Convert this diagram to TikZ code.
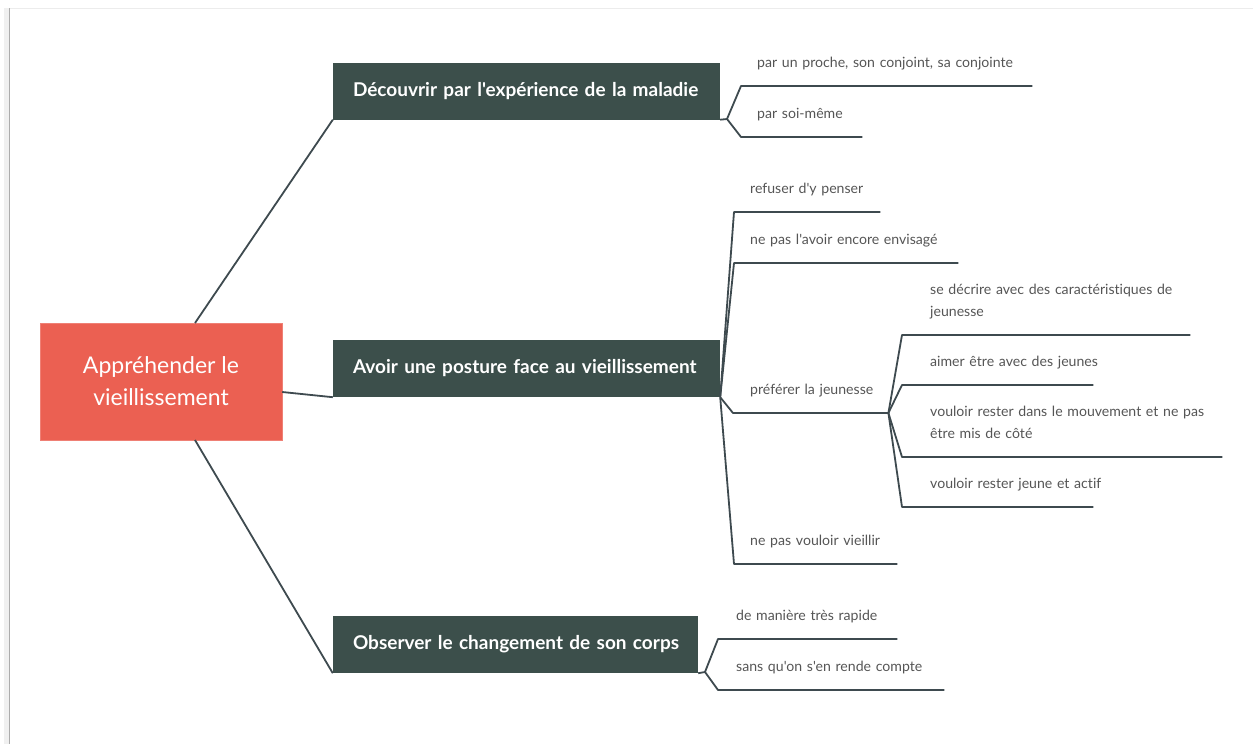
\documentclass[tikz,border=0pt]{standalone}
\usepackage{fontspec}
\setmainfont{Lato}[Ligatures={TeXOff,NoCommon}]
\definecolor{rootred}{HTML}{EB6052}
\definecolor{mainbox}{HTML}{3C4F4B}
\definecolor{linec}{HTML}{3E4A4F}
\definecolor{leaftxt}{HTML}{555555}
\newcommand\lstrut{\vrule height 10pt depth 3pt width 0pt}
\newcommand\lline[2]{\hspace*{#1}\mbox{#2}}
\tikzset{
  rootbox/.style={fill=rootred, draw=rootred!80!white, text=white, align=center,
    minimum width=242pt, minimum height=117pt, inner sep=0pt,
    font=\fontsize{23}{32}\selectfont},
  mainnode/.style={fill=mainbox, text=white, inner xsep=20pt, inner ysep=0pt,
    minimum height=57pt, align=left,
    font=\fontsize{19}{20}\selectfont\bfseries},
  leaf/.style={anchor=south west, align=left, inner xsep=0pt, inner ysep=15pt,
    text=leaftxt, font=\fontsize{14.1}{22}\selectfont},
  conn/.style={draw=linec, line width=1.8pt, line join=round},
}
\begin{document}
\begin{tikzpicture}[x=1pt,y=-1pt]
\useasboundingbox (0,0) rectangle (1253,744);
% frame shadow
\fill[gray!12] (4,8) rectangle (9,744);
\draw[gray!65, line width=1.4pt] (9.5,8) -- (9.5,744);
\draw[gray!15, line width=0.8pt] (9.5,8) -- (1253,8);

% root
\node[rootbox] (root) at (161,381.5) {Appréhender le\\vieillissement};

% main nodes
\node[mainnode, text width=347pt] (n1) at (526.5,91) {\mbox{Découvrir par l'expérience de la maladie}};
\node[mainnode, text width=347pt] (n2) at (526.5,368.5) {\mbox{Avoir une posture face au vieillissement}};
\node[mainnode, text width=325pt] (n3) at (515.5,644.5) {\mbox{Observer le changement de son corps}};

\draw[conn] (195,323) -- (n1.south west);
\draw[conn] (root.east |- 0,392) -- (n2.south west);
\draw[conn] (195,440) -- (n3.south west);

% branch 1
\coordinate (j1) at (727,119);
\node[leaf, text width=291pt] (l11) at (741,86) {\lline{16pt}{par un proche, son conjoint, sa conjointe}\lstrut};
\node[leaf, text width=121pt] (l12) at (741,137) {\lline{16pt}{par soi-même}\lstrut};
\draw[conn] (n1.south east) -- (j1);
\draw[conn] (j1) -- (l11.south west) -- (l11.south east);
\draw[conn] (j1) -- (l12.south west) -- (l12.south east);

% branch 2
\node[leaf, text width=146pt] (l21) at (734,212) {\lline{16pt}{refuser d'y penser}\lstrut};
\node[leaf, text width=224pt] (l22) at (734,263) {\lline{16pt}{ne pas l'avoir encore envisagé}\lstrut};
\node[leaf, text width=155pt] (l23) at (733,413) {\lline{17pt}{préférer la jeunesse}\lstrut};
\node[leaf, text width=163pt] (l24) at (734,564) {\lline{16pt}{ne pas vouloir vieillir}\lstrut};
\draw[conn] (n2.south east) -- (l21.south west) -- (l21.south east);
\draw[conn] (n2.south east) -- (l22.south west) -- (l22.south east);
\draw[conn] (n2.south east) -- (l23.south west) -- (l23.south east);
\draw[conn] (n2.south east) -- (l24.south west) -- (l24.south east);

% sub-branch préférer la jeunesse
\node[leaf, text width=288pt] (m1) at (902,335) {\lline{28pt}{se décrire avec des caractéristiques de}\\\lline{28pt}{jeunesse}\lstrut};
\node[leaf, text width=191pt] (m2) at (902,385) {\lline{28pt}{aimer être avec des jeunes}\lstrut};
\node[leaf, text width=320pt] (m3) at (902,457) {\lline{28pt}{vouloir rester dans le mouvement et ne pas}\\\lline{28pt}{être mis de côté}\lstrut};
\node[leaf, text width=191pt] (m4) at (902,507) {\lline{28pt}{vouloir rester jeune et actif}\lstrut};
\draw[conn] (l23.south east) -- (m1.south west) -- (m1.south east);
\draw[conn] (l23.south east) -- (m2.south west) -- (m2.south east);
\draw[conn] (l23.south east) -- (m3.south west) -- (m3.south east);
\draw[conn] (l23.south east) -- (m4.south west) -- (m4.south east);

% branch 3
\coordinate (j3) at (705,672);
\node[leaf, text width=179pt] (l31) at (718,639) {\lline{18pt}{de manière très rapide}\lstrut};
\node[leaf, text width=226pt] (l32) at (718,690) {\lline{18pt}{sans qu'on s'en rende compte}\lstrut};
\draw[conn] (n3.south east) -- (j3);
\draw[conn] (j3) -- (l31.south west) -- (l31.south east);
\draw[conn] (j3) -- (l32.south west) -- (l32.south east);
\end{tikzpicture}
\end{document}
